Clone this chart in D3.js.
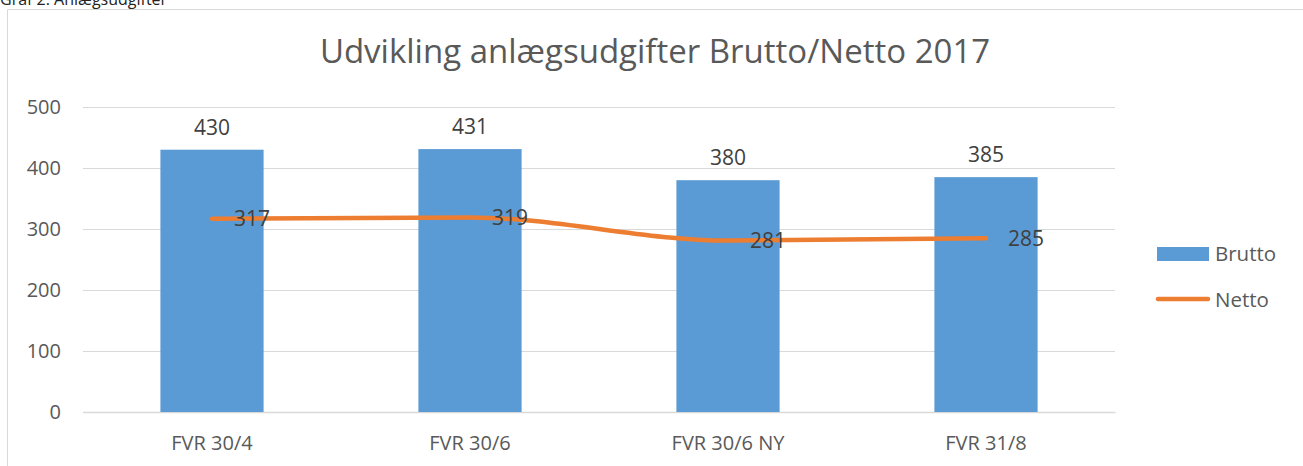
<!DOCTYPE html>
<html>
<head>
<meta charset="utf-8">
<script src="https://cdnjs.cloudflare.com/ajax/libs/d3/7.8.5/d3.min.js"></script>
<style>
  html, body { margin: 0; padding: 0; background: #fff; }
  svg { display: block; font-family: "Open Sans", sans-serif; }
</style>
</head>
<body>
<svg id="chart" width="1303" height="466"></svg>
<script>
const categories = ["FVR 30/4", "FVR 30/6", "FVR 30/6 NY", "FVR 31/8"];
const bruttoValues = [430, 431, 380, 385];
const nettoValues = [317, 319, 281, 285];
const yTicks = [0, 100, 200, 300, 400, 500];
const seriesNames = ["Brutto", "Netto"];
const chartTitle = "Udvikling anlægsudgifter Brutto/Netto 2017";
const caption = "Graf 2: Anlægsudgifter";

const W = 1303, H = 466;
const svg = d3.select("#chart");
const textColor = "#595959";
const labelColor = "#404040";
const barColor = "#5B9BD5";
const lineColor = "#ED7D31";
const gridColor = "#d9d9d9";

// caption (partly cut at top, as in the original)
svg.append("text").attr("x", 0).attr("y", 5)
  .attr("font-size", 16).attr("fill", "#222").text(caption);

// chart frame
svg.append("path")
  .attr("d", `M7.5,${H} L7.5,9.5 L${W},9.5`)
  .attr("fill", "none").attr("stroke", gridColor).attr("stroke-width", 1);

// title
svg.append("text").attr("x", 655).attr("y", 63)
  .attr("text-anchor", "middle").attr("font-size", 33).attr("fill", textColor)
  .text(chartTitle);

const x = d3.scaleBand().domain(categories).range([83, 1115])
  .paddingInner(0.6).paddingOuter(0.3);
const y = d3.scaleLinear().domain([0, 500]).range([412, 107]);

// grid
const yAxis = d3.axisLeft(y).tickValues(yTicks).tickSize(-(1115 - 83)).tickPadding(22);
const gy = svg.append("g").attr("transform", "translate(83,0)").call(yAxis);
gy.select(".domain").remove();
gy.selectAll(".tick line").attr("stroke", gridColor).attr("stroke-width", 1);
gy.selectAll(".tick text").attr("font-size", 20).attr("fill", textColor)
  .attr("font-family", "Open Sans, sans-serif");

// x axis labels
const xAxis = d3.axisBottom(x).tickSize(0).tickPadding(24);
const gx = svg.append("g").attr("transform", "translate(0,412)").call(xAxis);
gx.select(".domain").attr("stroke", gridColor).attr("stroke-width", 1.5);
gx.selectAll(".tick text").attr("font-size", 20).attr("fill", textColor)
  .attr("font-family", "Open Sans, sans-serif");

// bars
svg.append("g").selectAll("rect").data(bruttoValues).join("rect")
  .attr("x", (d, i) => x(categories[i]))
  .attr("y", d => y(d))
  .attr("width", x.bandwidth())
  .attr("height", d => y(0) - y(d))
  .attr("fill", barColor);

// bar labels
svg.append("g").selectAll("text").data(bruttoValues).join("text")
  .attr("x", (d, i) => x(categories[i]) + x.bandwidth() / 2)
  .attr("y", d => y(d) - 15)
  .attr("text-anchor", "middle").attr("font-size", 21).attr("fill", labelColor)
  .text(d => d);

// line
const cx = (i) => x(categories[i]) + x.bandwidth() / 2;
const line = d3.line().x((d, i) => cx(i)).y(d => y(d)).curve(d3.curveMonotoneX);
svg.append("path").datum(nettoValues)
  .attr("d", line).attr("fill", "none")
  .attr("stroke", lineColor).attr("stroke-width", 4.5).attr("stroke-linecap", "round");

// line labels
svg.append("g").selectAll("text").data(nettoValues).join("text")
  .attr("x", (d, i) => cx(i) + 22)
  .attr("y", d => y(d))
  .attr("dy", "0.36em")
  .attr("font-size", 21).attr("fill", labelColor)
  .text(d => d);

// legend
const lg = svg.append("g");
lg.append("rect").attr("x", 1157).attr("y", 247).attr("width", 52).attr("height", 14).attr("fill", barColor);
lg.append("text").attr("x", 1215).attr("y", 254).attr("dy", "0.36em")
  .attr("font-size", 20.5).attr("fill", textColor).text(seriesNames[0]);
lg.append("line").attr("x1", 1158).attr("x2", 1208).attr("y1", 299).attr("y2", 299)
  .attr("stroke", lineColor).attr("stroke-width", 4.5).attr("stroke-linecap", "round");
lg.append("text").attr("x", 1215).attr("y", 300).attr("dy", "0.36em")
  .attr("font-size", 20.5).attr("fill", textColor).text(seriesNames[1]);
</script>
</body>
</html>
